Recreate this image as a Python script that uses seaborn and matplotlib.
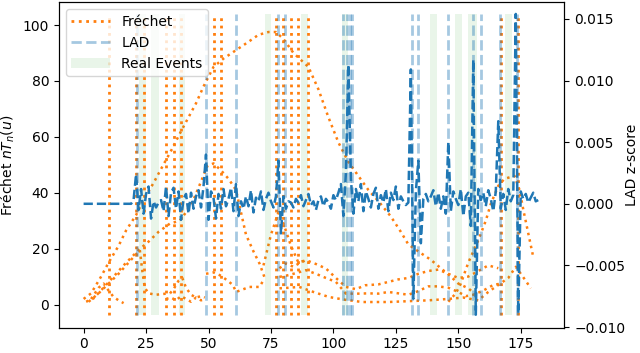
import numpy as np
import pandas as pd
import matplotlib
matplotlib.use("Agg")
import matplotlib.pyplot as plt
import seaborn as sns

# LAD z-score, one value per time step (0..182)
lad_z = [
    0, 0, 0, 0, 0, 0, 0, 0, 0, 0,
    0, 0, 0, 0, 0, 0, 0, 0, 0, 0,
    0.0003, 0.0024, -0.0005, 0.0012, -0.0008, 0.0008, 0.0014, -0.0012, 0.0002, -0.0003,
    0.0001, 0.0003, -0.0006, 0.0014, -0.0010, 0.0009, 0.0013, -0.0004, 0.0010, -0.0013,
    0.0004, 0.0008, -0.0008, 0.0009, -0.0004, 0.0006, 0.0011, -0.0003, 0.0014, 0.0040,
    -0.0013, 0.0010, 0.0005, -0.0012, 0.0008, -0.0004, 0.0012, -0.0002, 0.0004, 0.0013,
    -0.0006, 0.0016, -0.0010, 0.0002, -0.0004, 0.0006, -0.0002, 0.0011, -0.0007, 0.0005,
    0.0002, 0.0010, -0.0005, 0.0004, 0.0009, 0.0002, -0.0003, 0.0006, 0.0035, -0.0024,
    0.0006, -0.0004, 0.0002, 0.0001, -0.0003, 0.0004, 0.0001, 0.0007, -0.0002, 0.0003,
    0.0008, -0.0001, 0.0002, -0.0005, 0.0003, 0.0006, -0.0002, 0.0004, 0.0001, -0.0004,
    0.0007, 0.0003, 0.0009, 0.0016, -0.0010, 0.0025, 0.0113, 0.0020, -0.0008, 0.0012,
    0.0002, 0.0016, -0.0006, 0.0010, 0.0004, -0.0003, 0.0008, 0.0013, -0.0004, 0.0007,
    0.0001, 0.0012, -0.0006, 0.0009, 0.0003, 0.0014, -0.0004, 0.0006, 0.0002, -0.0001,
    0.0001, 0.0109, -0.0077, 0.0010, 0.0035, -0.0032, 0.0004, 0.0008, 0.0002, 0.0006,
    0.0011, -0.0002, 0.0009, -0.0004, 0.0006, -0.0008, 0.0050, -0.0006, 0.0010, 0.0004,
    -0.0001, 0.0012, -0.0010, 0.0006, 0.0009, -0.0018, 0.0117, -0.0090, 0.0012, 0.0003,
    0.0009, -0.0002, 0.0011, 0.0004, -0.0006, 0.0010, 0.0067, -0.0004, 0.0008, -0.0005,
    0.0012, 0.0002, 0.0007, 0.0154, -0.0089, 0.0010, 0.0004, 0.0008, 0.0001, 0.0005,
    0.0009, 0.0002, 0.0003,
]
lad_t = np.arange(len(lad_z))

# Frechet statistic curves (one per scanned segment)
arc_a_t = [0, 3, 7, 10, 14, 17, 21, 24, 28, 31, 35, 39, 42, 45, 48, 52, 56, 61, 66, 70, 74, 77,
           80, 84, 87, 90, 94, 98, 102, 106, 110, 114, 118, 123, 127, 130, 134, 139, 143, 147,
           150, 154, 157]
arc_a_v = [2, 4, 10, 15, 21, 26.5, 32, 37.5, 43.5, 48.5, 55, 62, 67, 72, 78, 85, 88, 91, 94, 96.5,
           97.5, 97.5, 95, 90, 87.5, 85, 77, 67, 58, 51, 46, 41, 37, 31.5, 26, 21.5, 19, 16, 13, 10,
           7.5, 5.8, 3.5]
arc_b_t = [1, 4, 10, 16, 22, 26, 30, 34.6, 38.5, 41, 44, 47, 49.5, 52, 55, 58, 61, 63, 65, 68,
           70.5, 72.5]
arc_b_v = [1, 2.2, 8, 14, 19.5, 22.5, 26, 29, 30, 33, 37.5, 44, 49.5, 50.5, 48, 45, 41, 33, 25,
           19, 14.5, 9.5]
arc_c_t = [49, 52, 54.5, 56.5, 59.8, 61, 64, 66.4, 70.4, 72.4]
arc_c_v = [11, 11.5, 10.5, 9.3, 7, 4.5, 5.5, 6.3, 6.3, 9.3]
arc_d_t = [72, 75, 78, 80, 83, 86, 89]
arc_d_v = [14, 25, 33, 29, 21, 15, 15.9]
arc_e_t = [146, 149, 151, 154, 158, 161, 163, 166, 168.5, 172.5, 174.5, 176, 178, 180]
arc_e_v = [1, 4, 7.5, 15, 23, 30, 36, 42.5, 45, 46, 41, 34, 25.5, 17]
arc_l0_t = [3, 6, 8, 10, 12, 14, 16]
arc_l0_v = [2, 6, 7.5, 5, 2.7, 1.5, 0.5]
arc_l1_t = [2, 6, 10, 14, 18, 21, 22.5, 23.5, 24.5, 26, 29, 32, 34.6]
arc_l1_v = [1, 4, 7.5, 11, 15, 18, 19.5, 12, 6, 4, 3.5, 3.8, 4]
arc_l2_t = [34.6, 36, 38, 39.5, 41, 43, 45, 47, 48.5]
arc_l2_v = [4, 5.5, 8.5, 9.5, 6, 3.5, 2.5, 3, 2.5]
arc_l3_t = [33, 35, 37, 39, 41, 43, 45, 47, 49]
arc_l3_v = [2, 2.5, 1.5, 3, 2, 1, 2.5, 1.5, 2]
arc_c1_t = [78.4, 81, 84, 86, 89, 93, 97, 101, 105, 109, 112.8, 118, 122, 126, 130, 134, 138,
            142, 146, 150, 154, 158, 162, 166]
arc_c1_v = [13, 14.7, 13.5, 14.6, 15.9, 14.5, 12.9, 9.5, 6.3, 5.5, 6.9, 7.2, 8.1, 9, 9.5, 11, 12,
            12.5, 11, 9.5, 10, 12, 14, 13]
arc_c2_t = [78.4, 82, 86, 89, 93, 97, 101, 105, 110, 114, 118, 122, 126, 130, 134, 138, 142, 146,
            150, 153, 156, 160, 164, 167]
arc_c2_v = [9.9, 10.5, 11.5, 12.3, 11, 9.5, 8.1, 3.9, 3.9, 4, 3.9, 4.5, 4, 3.5, 4.8, 6.5, 6.5, 6,
            4.5, 3, 3.5, 5, 7, 7.5]
arc_c3_t = [78.4, 82, 86.3, 92, 98.2, 104, 111.5, 118, 122, 130, 138, 146, 152, 158, 162, 166,
            170, 173, 175, 177, 179]
arc_c3_v = [5.8, 6, 6.3, 4.5, 2.7, 1.8, 0.9, 0.9, 0.9, 1.2, 1.5, 2, 2.5, 1.5, 4.5, 7, 9.5, 13.5,
            11, 8.5, 5.8]

# detected change points and real events
frechet_cps = [10, 21, 24, 33, 36, 39, 52, 55, 77, 80, 83, 86, 90, 167, 174]
lad_cps = [21.5, 49, 61, 78, 80.5, 104, 105.5, 106.5, 107.5, 131.5, 134, 146, 156, 159, 166.5, 173.5]
event_start = [22, 27, 38, 72.5, 87, 103.5, 138.5, 148.5, 154, 168.5]
event_end = [25, 30, 40.5, 75, 90, 106, 141.5, 151.5, 157.5, 171.5]

arcs = [(arc_a_t, arc_a_v), (arc_b_t, arc_b_v), (arc_c_t, arc_c_v), (arc_d_t, arc_d_v),
        (arc_e_t, arc_e_v), (arc_l0_t, arc_l0_v), (arc_l1_t, arc_l1_v), (arc_l2_t, arc_l2_v),
        (arc_l3_t, arc_l3_v), (arc_c1_t, arc_c1_v), (arc_c2_t, arc_c2_v), (arc_c3_t, arc_c3_v)]
frechet = pd.concat([pd.DataFrame({"t": t, "stat": v, "arc": i}) for i, (t, v) in enumerate(arcs)])
lad = pd.DataFrame({"t": lad_t, "z": lad_z})

fig, ax = plt.subplots(figsize=(6.4, 3.53), dpi=100)
fig.subplots_adjust(left=0.092, right=0.882, bottom=0.07, top=0.994)

sns.lineplot(data=frechet, x="t", y="stat", units="arc", estimator=None, sort=False,
             color="tab:orange", linestyle=":", linewidth=1.8, ax=ax)
ax.set_ylim(-8.5, 108.2)
ax.set_xlim(-9.9, 192.5)
ax.set_xlabel("")
ax.set_ylabel("Fréchet $nT_n(u)$")
ax.tick_params(axis="x", pad=2.5)

ax2 = ax.twinx()
lo, hi = lad["z"].min(), lad["z"].max()
for i, (a, b) in enumerate(zip(event_start, event_end)):
    ax2.fill_betweenx([lo, hi], a, b, color="tab:green", alpha=0.1, linewidth=0,
                      label="Real Events" if i == 0 else None)
ax2.vlines(frechet_cps, lo, hi, colors="tab:orange", linestyles=":", linewidth=2,
           label="Fréchet")
ax2.vlines(lad_cps, lo, hi, colors="tab:blue", linestyles="--", linewidth=2, alpha=0.4,
           label="LAD")
sns.lineplot(data=lad, x="t", y="z", color="tab:blue", linestyle="--", linewidth=1.8, ax=ax2)
ax2.set_ylim(-0.0101, 0.01636)
ax2.set_xlim(-9.9, 192.5)
ax2.set_xlabel("")
ax2.set_ylabel("LAD z-score", labelpad=0)

handles, labels = ax2.get_legend_handles_labels()
order = [labels.index(n) for n in ["Fréchet", "LAD", "Real Events"]]
ax2.legend([handles[k] for k in order], [labels[k] for k in order], loc="upper left",
           handlelength=2.8)

fig.savefig("out.png", dpi=100)
